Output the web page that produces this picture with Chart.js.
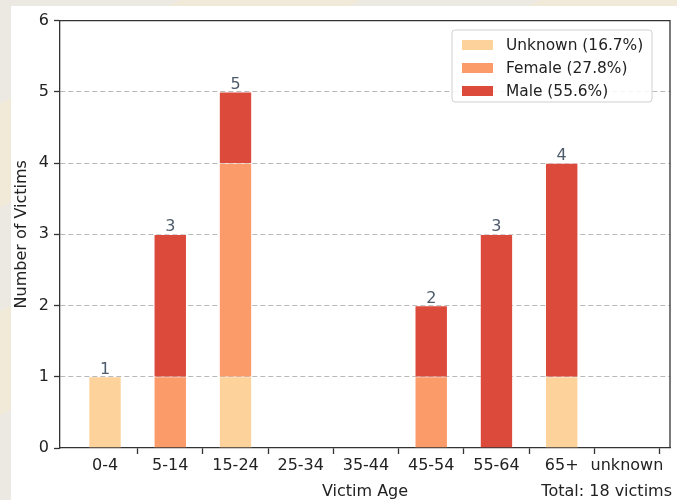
<!DOCTYPE html>
<html>
<head>
<meta charset="utf-8">
<script src="https://cdn.jsdelivr.net/npm/chart.js@4/dist/chart.umd.min.js"></script>
<style>
  html, body { margin: 0; padding: 0; }
  body {
    width: 677px; height: 500px; overflow: hidden; position: relative;
    background: repeating-linear-gradient(150deg, #ece8e2 0px, #ece8e2 90px, #f2ead8 90px, #f2ead8 180px);
  }
  .fig { position: absolute; left: 11px; top: 6px; width: 666px; height: 494px; background: #fff; }
</style>
</head>
<body>
<div class="fig"><canvas class="victims-chart" width="666" height="494"></canvas></div>
<script>
const ageGroups = ['0-4', '5-14', '15-24', '25-34', '35-44', '45-54', '55-64', '65+', 'unknown'];
const unknownCounts = [1, 0, 1, 0, 0, 0, 0, 1, 0];
const femaleCounts  = [0, 1, 3, 0, 0, 1, 0, 0, 0];
const maleCounts    = [0, 2, 1, 0, 0, 1, 3, 3, 0];
const seriesNames = ['Unknown (16.7%)', 'Female (27.8%)', 'Male (55.6%)'];
const yTicks = [0, 1, 2, 3, 4, 5, 6];
const totalText = 'Total: 18 victims';

const colors = ['#fdd39b', '#fc9b6a', '#dc4a3b'];
const FONT = '"DejaVu Sans", sans-serif';

function toPoints (arr) {
  return arr.map((v, i) => ({ x: i, y: v }));
}

const extras = {
  id: 'extras',
  afterDatasetsDraw (chart) {
    const { ctx, scales: { x, y }, chartArea } = chart;
    ctx.save();
    // frame top/right
    ctx.strokeStyle = '#333';
    ctx.lineWidth = 1.3;
    ctx.beginPath();
    ctx.moveTo(chartArea.left, chartArea.top);
    ctx.lineTo(chartArea.right, chartArea.top);
    ctx.lineTo(chartArea.right, chartArea.bottom);
    ctx.stroke();

    // totals above bars
    ctx.font = '16px ' + FONT;
    ctx.fillStyle = '#4d5b6b';
    ctx.textAlign = 'center';
    ctx.textBaseline = 'alphabetic';
    ageGroups.forEach((g, i) => {
      const t = unknownCounts[i] + femaleCounts[i] + maleCounts[i];
      if (t > 0) ctx.fillText(String(t), x.getPixelForValue(i), y.getPixelForValue(t) - 3);
    });

    // legend
    const lx = 441, ly = 24, lw = 200, lh = 72;
    ctx.fillStyle = 'rgba(255,255,255,0.85)';
    ctx.strokeStyle = '#d0d0d0';
    ctx.lineWidth = 1;
    ctx.beginPath();
    ctx.roundRect(lx, ly, lw, lh, 3);
    ctx.fill();
    ctx.stroke();
    ctx.font = '15.4px ' + FONT;
    ctx.textAlign = 'left';
    ctx.textBaseline = 'middle';
    seriesNames.forEach((name, i) => {
      const cy = ly + 15 + i * 23;
      ctx.fillStyle = colors[i];
      ctx.fillRect(lx + 10, cy - 5, 31, 10);
      ctx.fillStyle = '#222';
      ctx.fillText(name, lx + 54, cy + 1);
    });

    // axis titles
    ctx.font = '16px ' + FONT;
    ctx.fillStyle = '#222';
    ctx.textAlign = 'center';
    ctx.textBaseline = 'alphabetic';
    ctx.fillText('Victim Age', (chartArea.left + chartArea.right) / 2, 490);
    ctx.textAlign = 'right';
    ctx.fillText(totalText, 661, 490);

    ctx.translate(11, (chartArea.top + chartArea.bottom) / 2);
    ctx.rotate(-Math.PI / 2);
    ctx.textAlign = 'center';
    ctx.textBaseline = 'middle';
    ctx.fillText('Number of Victims', 0, 0);
    ctx.restore();
  }
};

function displayVictimsChart () {
  const ctx = document.querySelector('.victims-chart');

  new Chart(ctx, {
    type: 'bar',
    data: {
      datasets: [
        { label: seriesNames[0], data: toPoints(unknownCounts), backgroundColor: colors[0] },
        { label: seriesNames[1], data: toPoints(femaleCounts), backgroundColor: colors[1] },
        { label: seriesNames[2], data: toPoints(maleCounts), backgroundColor: colors[2] }
      ]
    },
    options: {
      responsive: false,
      animation: false,
      layout: { padding: { left: 0, top: 12, right: 7, bottom: 0 } },
      datasets: {
        bar: {
          barPercentage: 0.5,
          categoryPercentage: 1,
          borderWidth: { top: 0.6, left: 0.6, right: 0.6, bottom: 0 },
          borderColor: 'rgba(255,255,255,0.6)'
        }
      },
      plugins: {
        legend: { display: false },
        tooltip: { enabled: false }
      },
      scales: {
        x: {
          type: 'linear',
          stacked: true,
          offset: false,
          min: -0.69,
          max: 8.66,
          afterBuildTicks: s => { s.ticks = ageGroups.map((g, i) => ({ value: i })); },
          afterFit: s => { s.height = 52; },
          ticks: {
            autoSkip: false,
            maxRotation: 0,
            padding: 2,
            color: '#222',
            font: { family: FONT, size: 16 },
            callback: v => ageGroups[v]
          },
          grid: {
            offset: true,
            drawOnChartArea: false,
            drawTicks: true,
            tickLength: 6,
            tickWidth: 1.3,
            tickColor: c => c.index === 0 ? 'rgba(0,0,0,0)' : '#333'
          },
          border: { display: true, color: '#333', width: 1.3 }
        },
        y: {
          stacked: true,
          min: 0,
          max: 6,
          afterBuildTicks: s => { s.ticks = yTicks.map(v => ({ value: v })); },
          afterFit: s => { s.width = 49; },
          ticks: {
            padding: 5,
            color: '#222',
            font: { family: FONT, size: 16 }
          },
          grid: {
            color: c => (c.tick && (c.tick.value === 0 || c.tick.value === 6)) ? 'rgba(0,0,0,0)' : '#b8b8b8',
            lineWidth: 1,
            drawTicks: true,
            tickLength: 6,
            tickWidth: 1.3,
            tickColor: '#333',
            tickBorderDash: []
          },
          border: { display: true, color: '#333', width: 1.3, dash: [5, 3] }
        }
      }
    },
    plugins: [extras]
  });
}

displayVictimsChart();
</script>
</body>
</html>
